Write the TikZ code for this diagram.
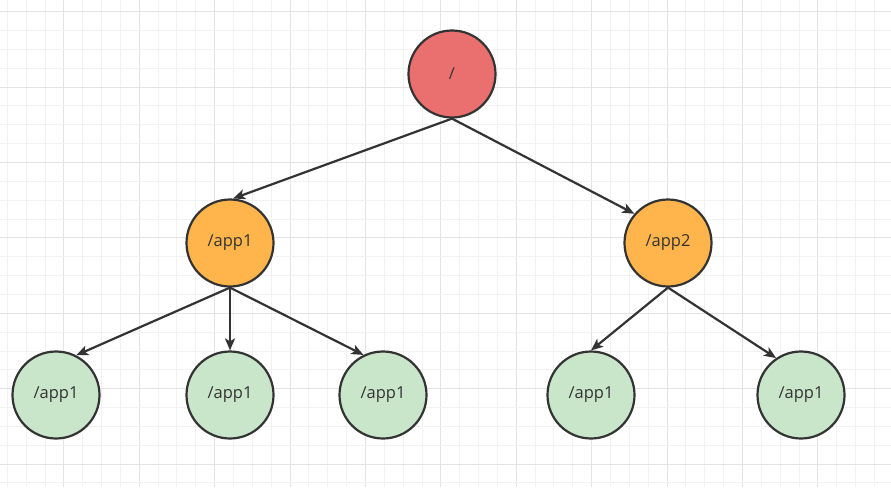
\documentclass[tikz,border=0pt]{standalone}
\usepackage{fontspec}
\setmainfont{Open Sans}
\usetikzlibrary{arrows.meta}
\definecolor{gridminor}{HTML}{F2F2F2}
\definecolor{gridmajor}{HTML}{E4E4E4}
\definecolor{strokec}{HTML}{333333}
\definecolor{rootfill}{HTML}{EA6F6F}
\definecolor{midfill}{HTML}{FFB54C}
\definecolor{leaffill}{HTML}{C9E6CA}
\tikzset{
  treenode/.style={circle, draw=strokec, line width=2.2pt, minimum size=87pt, inner sep=0pt,
    text=strokec, font=\fontsize{16.5}{19}\selectfont},
  rootnode/.style={treenode, fill=rootfill},
  midnode/.style={treenode, fill=midfill},
  leafnode/.style={treenode, fill=leaffill},
  link/.style={draw=strokec, line width=2.2pt, -{Stealth[length=12pt,width=10pt,inset=3pt]}}
}
\begin{document}
\begin{tikzpicture}[x=1pt,y=-1pt]
\useasboundingbox (0,0) rectangle (891,487);
\fill[white] (0,0) rectangle (891,487);
% grid
\foreach \i in {0,...,47} {
  \pgfmathsetmacro\xx{7.3+18.85*\i}
  \pgfmathtruncatemacro\mm{mod(\i,4)}
  \ifnum\mm=3
    \draw[gridmajor, line width=1pt] (\xx,0) -- (\xx,487);
  \else
    \draw[gridminor, line width=1pt] (\xx,0) -- (\xx,487);
  \fi
}
\foreach \i in {0,...,25} {
  \pgfmathsetmacro\yy{11.7+18.85*\i}
  \pgfmathtruncatemacro\mm{mod(\i,4)}
  \ifnum\mm=0
    \draw[gridmajor, line width=1pt] (0,\yy) -- (891,\yy);
  \else
    \draw[gridminor, line width=1pt] (0,\yy) -- (891,\yy);
  \fi
}
% nodes
\node[rootnode] (root) at (452,74) {/};
\node[midnode] (app1) at (230,243) {/app1};
\node[midnode] (app2) at (668,243) {/app2};
\node[leafnode] (l1) at (56,395) {/app1};
\node[leafnode] (l2) at (230,395) {/app1};
\node[leafnode] (l3) at (383,395) {/app1};
\node[leafnode] (l4) at (591,395) {/app1};
\node[leafnode] (l5) at (801,395) {/app1};
% connectors
\draw[link] (root.south) -- (app1.86);
\draw[link] (root.south) -- (app2.139);
\draw[link] (app1.south) -- (l1.63);
\draw[link] (app1.south) -- (l2.north);
\draw[link] (app1.south) -- (l3.116);
\draw[link] (app2.south) -- (l4.north);
\draw[link] (app2.south) -- (l5.124);
\end{tikzpicture}
\end{document}
